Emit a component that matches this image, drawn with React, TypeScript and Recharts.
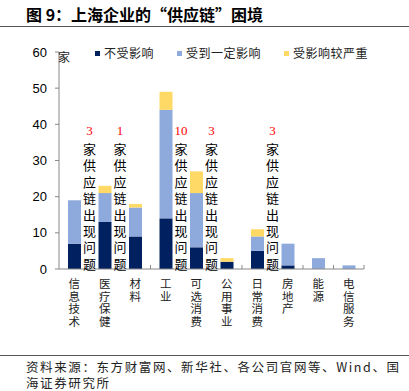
import React from 'react';
import { BarChart, Bar, XAxis, YAxis, ReferenceDot } from 'recharts';

const categories = ['信息技术', '医疗保健', '材料', '工业', '可选消费', '公用事业', '日常消费', '房地产', '能源', '电信服务'];
const notAffected = [7, 13, 9, 14, 6, 2, 5, 1, 0, 0];
const someAffected = [12, 8, 8, 30, 15, 0, 4, 6, 3, 1];
const severe = [0, 2, 1, 5, 6, 1, 2, 0, 0, 0];
const seriesNames = ['不受影响', '受到一定影响', '受影响较严重'];
const seriesColors = ['#002060', '#8EA9DB', '#FFD966'];
const yTicks = [0, 10, 20, 30, 40, 50, 60];
const noteCategories = ['信息技术', '医疗保健', '工业', '可选消费', '日常消费'];
const noteCounts = ['3', '1', '10', '3', '3'];
const noteText = '家供应链出现问题';
const noteLevel = 39;
const unitLabel = '家';
const titleText = '图 9：上海企业的“供应链”困境';
const sourceLine1 = '资料来源：东方财富网、新华社、各公司官网等、Wind、国';
const sourceLine2 = '海证券研究所';

const data = categories.map((c, i) => ({
  name: c,
  a: notAffected[i],
  b: someAffected[i],
  c: severe[i],
}));

const CJK = '"Noto Sans CJK SC", "Noto Sans", sans-serif';
const W = 409;
const H = 391;
const PLOT_LEFT = 59;
const PLOT_RIGHT = 364;
const BAND = (PLOT_RIGHT - PLOT_LEFT) / categories.length;

const XTick = (props: any) => {
  const { x, y, payload } = props;
  const chars = String(payload.value).split('');
  return (
    <g>
      <line x1={x + BAND / 2} x2={x + BAND / 2} y1={y} y2={y - 4} stroke="#888" strokeWidth={1} />
      {chars.map((ch, i) => (
        <text key={i} x={x} y={y + 19 + i * 12.5} textAnchor="middle" fontSize={11.5} fill="#222" fontFamily={CJK}>
          {ch}
        </text>
      ))}
    </g>
  );
};

const NoteShape = (count: string) => (props: any) => {
  const { cx, cy } = props;
  if (cx == null || cy == null) return <g />;
  const tx = cx + BAND / 2;
  return (
    <g>
      <text x={tx} y={cy + 7} textAnchor="middle" fontSize={13} fill="#FF0000" fontFamily="'Liberation Serif', serif">
        {count}
      </text>
      {noteText.split('').map((ch, i) => (
        <text key={i} x={tx} y={cy + 26 + i * 16.4} textAnchor="middle" fontSize={13} fill="#000" fontFamily={CJK}>
          {ch}
        </text>
      ))}
    </g>
  );
};

const UnitLabel = (props: any) => {
  const vb = props.viewBox || {};
  return (
    <text x={(vb.x ?? 9) + (vb.width ?? 50) + 5} y={(vb.y ?? 52) + 10} textAnchor="middle" fontSize={12} fill="#222" fontFamily={CJK}>
      {unitLabel}
    </text>
  );
};

export default function App() {
  return (
    <div style={{ position: 'fixed', left: 0, top: 0, width: W, height: H, background: '#fff', overflow: 'hidden' }}>
      <BarChart
        width={W}
        height={H}
        data={data}
        margin={{ top: 52, right: W - PLOT_RIGHT, left: 9, bottom: H - 269 - 60 }}
        barSize={13}
      >
        <YAxis
          type="number"
          domain={[0, 60]}
          ticks={yTicks}
          width={50}
          tickSize={4}
          tickMargin={8}
          axisLine={{ stroke: '#888' }}
          tickLine={{ stroke: '#888' }}
          tick={{ fontSize: 13, fill: '#000', fontFamily: '"Liberation Sans", Arial, sans-serif' }}
          interval={0}
          label={<UnitLabel />}
        />
        <XAxis
          dataKey="name"
          type="category"
          height={60}
          interval={0}
          tickLine={false}
          tickSize={0}
          tickMargin={0}
          axisLine={{ stroke: '#888' }}
          tick={<XTick />}
        />
        <Bar dataKey="a" stackId="s" fill={seriesColors[0]} isAnimationActive={false} name={seriesNames[0]} />
        <Bar dataKey="b" stackId="s" fill={seriesColors[1]} isAnimationActive={false} name={seriesNames[1]} />
        <Bar dataKey="c" stackId="s" fill={seriesColors[2]} isAnimationActive={false} name={seriesNames[2]} />
        {noteCategories.map((c, i) => (
          <ReferenceDot key={c} x={c} y={noteLevel} r={0} ifOverflow="visible" shape={NoteShape(noteCounts[i])} />
        ))}
      </BarChart>

      <div
        style={{
          position: 'absolute',
          left: 26,
          top: 3,
          fontFamily: CJK,
          fontWeight: 700,
          fontSize: 16,
          color: '#000',
          whiteSpace: 'nowrap',
          lineHeight: '22px',
        }}
      >
        {titleText}
      </div>
      <div style={{ position: 'absolute', left: 0, top: 26, width: W, height: 1, background: '#555' }} />

      <div
        style={{
          position: 'absolute',
          left: 95,
          top: 45,
          display: 'flex',
          gap: 23,
          fontFamily: CJK,
          fontSize: 12,
          letterSpacing: '0.5px',
          color: '#222',
          lineHeight: '16px',
          whiteSpace: 'nowrap',
        }}
      >
        {seriesNames.map((n, i) => (
          <div key={n} style={{ display: 'flex', alignItems: 'center' }}>
            <span style={{ display: 'inline-block', width: 5, height: 5, background: seriesColors[i], marginRight: 4 }} />
            <span>{n}</span>
          </div>
        ))}
      </div>

      <div style={{ position: 'absolute', left: 0, top: 355, width: W, height: 1, background: '#555' }} />
      <div
        style={{
          position: 'absolute',
          left: 26,
          top: 359,
          fontFamily: CJK,
          fontSize: 12.5,
          letterSpacing: '1.6px',
          color: '#222',
          lineHeight: '15.5px',
          whiteSpace: 'nowrap',
        }}
      >
        <div>{sourceLine1}</div>
        <div>{sourceLine2}</div>
      </div>
    </div>
  );
}
